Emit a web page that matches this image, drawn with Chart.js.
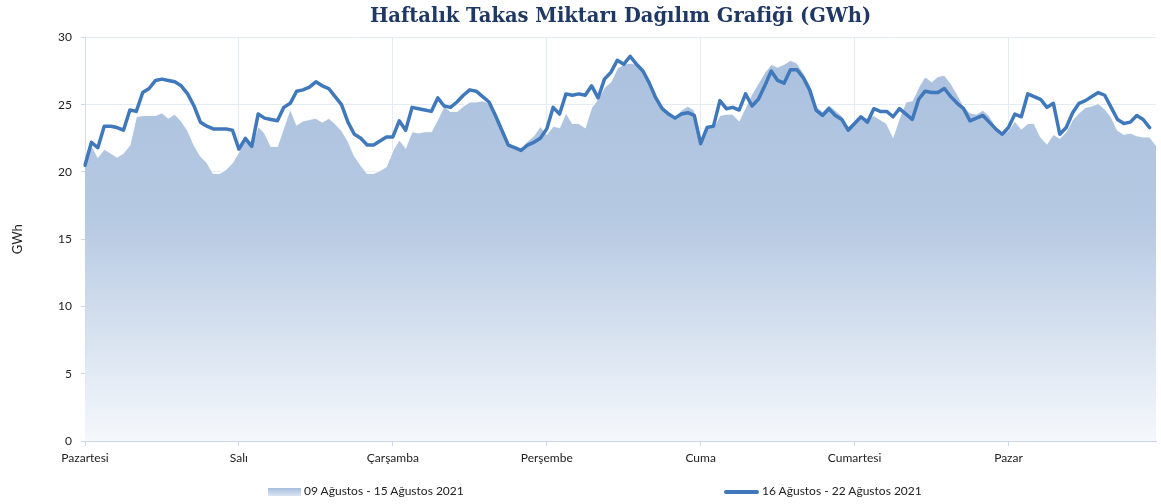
<!DOCTYPE html>
<html lang="tr">
<head>
<meta charset="utf-8">
<title>Haftalık Takas Miktarı Dağılım Grafiği</title>
<script src="https://cdn.jsdelivr.net/npm/chart.js@4.4.1/dist/chart.umd.min.js"></script>
<style>
  html, body { margin: 0; padding: 0; background: #fff; }
  #wrap { position: relative; width: 1161px; height: 504px; }
  #legend .item { position: absolute; top: 483px; font: 12px Lato, 'Open Sans', sans-serif; color: #222; white-space: nowrap; line-height: 16px; }
  #legend .swatch { display: inline-block; vertical-align: middle; margin-right: 3px; }
  #legend .area { width: 33px; height: 8px; background: linear-gradient(#a4bcdc, #dbe5f2); }
  #legend .line { width: 35px; height: 4px; border-radius: 2px; background: #3f78bb; }
</style>
</head>
<body>
<div id="wrap">
  <canvas id="takasChart" width="1161" height="504"></canvas>
  <div id="legend">
    <div class="item" style="left:268px"><span class="swatch area"></span>09 Ağustos - 15 Ağustos 2021</div>
    <div class="item" style="left:724px"><span class="swatch line"></span>16 Ağustos - 22 Ağustos 2021</div>
  </div>
</div>
<script>
// tick labels (one per day, 24 hourly points each)
const days = ['Pazartesi', 'Salı', 'Çarşamba', 'Perşembe', 'Cuma', 'Cumartesi', 'Pazar'];
const seriesNames = ['09 Ağustos - 15 Ağustos 2021', '16 Ağustos - 22 Ağustos 2021'];

// 09-15 Ağustos, hourly GWh
const prevWeek = [
    20.5, 22.0, 21.1, 21.7, 21.4, 21.1, 21.4, 22.0, 24.1, 24.2,
    24.2, 24.2, 24.4, 24.0, 24.3, 23.8, 23.1, 22.0, 21.2, 20.7,
    19.9, 19.9, 20.2, 20.7, 21.5, 22.6, 22.0, 23.4, 22.9, 21.9,
    21.9, 23.3, 24.7, 23.5, 23.8, 23.9, 24.0, 23.7, 24.0, 23.6,
    23.1, 22.3, 21.2, 20.5, 19.9, 19.9, 20.1, 20.4, 21.6, 22.4,
    21.8, 23.0, 22.9, 23.0, 23.0, 23.9, 24.9, 24.5, 24.5, 24.9,
    25.2, 25.2, 25.3, 25.1, 24.3, 23.1, 22.1, 21.8, 21.7, 22.3,
    22.7, 23.4, 22.8, 23.4, 23.3, 24.4, 23.6, 23.6, 23.3, 24.8,
    25.4, 26.3, 26.7, 27.7, 28.0, 28.1, 28.0, 27.6, 26.7, 25.6,
    24.9, 24.5, 24.1, 24.6, 24.9, 24.6, 22.4, 23.2, 23.3, 24.2,
    24.3, 24.3, 23.8, 24.8, 25.8, 26.6, 27.4, 28.0, 27.8, 28.0,
    28.3, 28.1, 27.4, 26.5, 24.9, 24.5, 25.0, 24.6, 24.2, 23.4,
    23.7, 24.1, 24.0, 24.2, 23.9, 23.6, 22.6, 24.0, 25.2, 25.3,
    26.3, 27.1, 26.7, 27.1, 27.2, 26.6, 25.8, 24.9, 24.4, 24.3,
    24.6, 24.2, 23.4, 22.8, 23.1, 23.8, 23.2, 23.6, 23.6, 22.6,
    22.1, 22.8, 22.5, 23.0, 23.9, 24.4, 24.8, 24.9, 25.1, 24.7,
    24.1, 23.1, 22.8, 22.9, 22.7, 22.6, 22.6, 22.0
];

// 16-22 Ağustos, hourly GWh (last hour missing)
const thisWeek = [
    20.5, 22.2, 21.8, 23.4, 23.4, 23.3, 23.1, 24.6, 24.5, 25.9,
    26.2, 26.8, 26.9, 26.8, 26.7, 26.4, 25.8, 24.9, 23.7, 23.4,
    23.2, 23.2, 23.2, 23.1, 21.7, 22.5, 21.9, 24.3, 24.0, 23.9,
    23.8, 24.8, 25.1, 26.0, 26.1, 26.3, 26.7, 26.4, 26.2, 25.6,
    25.0, 23.7, 22.8, 22.5, 22.0, 22.0, 22.3, 22.6, 22.6, 23.8,
    23.1, 24.8, 24.7, 24.6, 24.5, 25.5, 24.9, 24.8, 25.2, 25.7,
    26.1, 26.0, 25.6, 25.2, 24.2, 23.1, 22.0, 21.8, 21.6, 22.0,
    22.2, 22.5, 23.2, 24.8, 24.3, 25.8, 25.7, 25.8, 25.7, 26.4,
    25.5, 26.9, 27.4, 28.3, 28.0, 28.6, 28.0, 27.5, 26.6, 25.5,
    24.7, 24.3, 24.0, 24.3, 24.4, 24.2, 22.1, 23.3, 23.4, 25.3,
    24.7, 24.8, 24.6, 25.8, 24.9, 25.4, 26.4, 27.5, 26.8, 26.6,
    27.6, 27.6, 27.0, 26.1, 24.6, 24.2, 24.7, 24.2, 23.9, 23.1,
    23.6, 24.1, 23.7, 24.7, 24.5, 24.5, 24.1, 24.7, 24.3, 23.9,
    25.4, 26.0, 25.9, 25.9, 26.2, 25.6, 25.1, 24.7, 23.8, 24.0,
    24.2, 23.7, 23.2, 22.8, 23.3, 24.3, 24.1, 25.8, 25.6, 25.4,
    24.8, 25.1, 22.8, 23.3, 24.4, 25.1, 25.3, 25.6, 25.9, 25.7,
    24.8, 23.9, 23.6, 23.7, 24.2, 23.9, 23.3
];

const hours = days.flatMap(d => Array.from({ length: 24 }, (_, h) => d + ' ' + String(h).padStart(2, '0') + ':00'));

const lineColor = '#3f78bb';
const gridColor = '#e4ebf5';
const axisColor = '#c8d7eb';
const tickFont = { family: "Lato, 'Open Sans', sans-serif", size: 12 };

const areaFill = (ctx) => {
    const area = ctx.chart.chartArea;
    if (!area) return '#b3c7e1';
    const g = ctx.chart.ctx.createLinearGradient(0, area.top, 0, area.bottom);
    g.addColorStop(0, '#aac0de');
    g.addColorStop(0.45, '#b6c9e2');
    g.addColorStop(1, '#f5f8fc');
    return g;
};

new Chart(document.getElementById('takasChart'), {
    type: 'line',
    data: {
        labels: hours,
        datasets: [
            {
                label: seriesNames[0],
                data: prevWeek,
                fill: 'origin',
                backgroundColor: areaFill,
                borderColor: 'rgba(255,255,255,0.9)',
                borderWidth: 1.2,
                pointRadius: 0,
                tension: 0,
                order: 2
            },
            {
                label: seriesNames[1],
                data: thisWeek,
                fill: false,
                borderColor: lineColor,
                borderWidth: 3.5,
                borderJoinStyle: 'round',
                borderCapStyle: 'round',
                pointRadius: 0,
                tension: 0,
                order: 1
            }
        ]
    },
    options: {
        responsive: false,
        animation: false,
        layout: { padding: { left: 0, right: 1, top: 0, bottom: 30 } },
        plugins: {
            legend: { display: false },
            tooltip: { enabled: false },
            title: {
                display: true,
                text: 'Haftalık Takas Miktarı Dağılım Grafiği (GWh)',
                color: '#1f3864',
                fullSize: false,
                font: { family: "'DejaVu Serif', serif", size: 19.5, weight: 'bold', lineHeight: 1.2 },
                padding: { top: 5, bottom: 9 }
            }
        },
        scales: {
            x: {
                offset: false,
                grid: {
                    color: ctx => ctx.index % 24 === 0 ? gridColor : 'transparent',
                    tickColor: ctx => ctx.index % 24 === 0 ? axisColor : 'transparent',
                    tickLength: 5
                },
                border: { color: axisColor },
                ticks: {
                    autoSkip: false,
                    maxRotation: 0,
                    padding: 5,
                    color: '#222',
                    font: tickFont,
                    callback: (v, i) => i % 24 === 0 ? days[i / 24] : ''
                },
                afterFit: s => { s.height = 33; }
            },
            y: {
                min: 0,
                max: 30,
                ticks: { stepSize: 5, padding: 9, color: '#222', font: tickFont },
                grid: { color: gridColor, tickColor: axisColor, tickLength: 4 },
                border: { color: '#d3dfee' },
                title: {
                    display: true,
                    text: 'GWh',
                    color: '#222',
                    font: { family: "Lato, 'Open Sans', sans-serif", size: 13 },
                    padding: { top: 10, bottom: 0 }
                },
                afterFit: s => { s.width = 85; }
            }
        }
    }
});
</script>
</body>
</html>
